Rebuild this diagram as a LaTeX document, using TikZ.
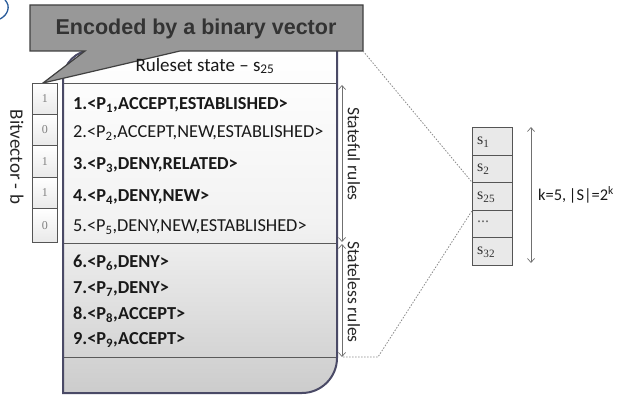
\documentclass[tikz,border=0pt]{standalone}
\usepackage{fontspec}
\setmainfont{Carlito}
\newfontfamily\arialfont{Liberation Sans}
\newfontfamily\cellfont{Liberation Serif}
\usetikzlibrary{arrows.meta}
\definecolor{boxborder}{HTML}{4A4A66}
\definecolor{divider}{HTML}{5A5A5A}
\definecolor{callfill}{HTML}{989898}
\definecolor{callborder}{HTML}{404040}
\definecolor{calltext}{HTML}{333333}
\definecolor{cellfill}{HTML}{E9E9E9}
\definecolor{cellborder}{HTML}{555555}
\definecolor{digit}{HTML}{808080}
\definecolor{arrowgray}{HTML}{707070}
\definecolor{dotgray}{HTML}{8A8A8A}
\definecolor{slideblue}{HTML}{2A5C9A}
\tikzset{
  rule/.style={anchor=west, inner sep=0pt, font=\fontsize{18.3}{20}\selectfont, text=black!90},
  boldrule/.style={rule, font=\bfseries\fontsize{18.3}{20}\selectfont},
  bitcell/.style={draw=cellborder, line width=0.8pt, top color=white, bottom color=cellfill,
    minimum width=25pt, minimum height=31pt, inner sep=0pt, anchor=north west,
    font=\cellfont\fontsize{12}{14}\selectfont, text=digit},
  stcell/.style={draw=cellborder, line width=0.9pt, fill=cellfill,
    minimum width=40pt, minimum height=27.6pt, inner sep=0pt, anchor=north west},
  stlabel/.style={anchor=west, inner sep=0pt, font=\cellfont\fontsize{16}{18}\selectfont, text=black!80},
  sidelabel/.style={rotate=-90, inner sep=0pt, font=\fontsize{17.5}{19}\selectfont, text=black!85},
  dim/.style={draw=arrowgray, line width=0.7pt, {Straight Barb[length=4pt,width=7pt]}-{Straight Barb[length=4pt,width=7pt]}},
  dotline/.style={draw=dotgray, line width=0.8pt, dash pattern=on 1.5pt off 1.5pt},
}
\begin{document}
\begin{tikzpicture}[x=1pt,y=-1pt]
\useasboundingbox (0,0) rectangle (633,396);
% slide artifact arc
\draw[slideblue, line width=1.3pt] (5,0) .. controls (11,6) and (8,15) .. (0,19);

% main box
\path[top color=white, bottom color=black!20, middle color=black!5]
  (63,393) -- (63,80) .. controls (63,63.4) and (76.4,50) .. (93,50)
  -- (337,50) -- (337,358) .. controls (337,377.3) and (321.3,393) .. (302,393) -- cycle;
\draw[divider, line width=1pt] (63,84) -- (337,84);
\draw[divider, line width=1pt] (63,243) -- (337,243);
\draw[divider, line width=1pt] (63,357) -- (337,357);
\draw[boxborder, line width=2pt]
  (63,393) -- (63,80) .. controls (63,63.4) and (76.4,50) .. (93,50)
  -- (337,50) -- (337,358) .. controls (337,377.3) and (321.3,393) .. (302,393) -- cycle;

% callout
\draw[callborder, fill=callfill, line width=1.2pt]
  (30,5) -- (363,5) -- (363,51) -- (180,51) -- (43,83) -- (85,51) -- (30,51) -- cycle;
\node[font=\arialfont\bfseries\fontsize{21.5}{24}\selectfont, text=calltext, inner sep=0pt] (callout) at (196,29) {Encoded by a binary vector};
\coordinate (calloutcorner) at (363,51);

% header
\node[font=\fontsize{19}{21}\selectfont, inner sep=0pt, text=black!90] (header) at (205,66) {Ruleset state -- s\textsubscript{25}};

% rules
\node[boldrule] (r1) at (73,105) {1.<P\textsubscript{1},ACCEPT,ESTABLISHED>};
\node[rule] (r2) at (73,133) {2.<P\textsubscript{2},ACCEPT,NEW,ESTABLISHED>};
\node[boldrule] (r3) at (73,165) {3.<P\textsubscript{3},DENY,RELATED>};
\node[boldrule] (r4) at (73,197) {4.<P\textsubscript{4},DENY,NEW>};
\node[rule] (r5) at (73,227) {5.<P\textsubscript{5},DENY,NEW,ESTABLISHED>};
\node[boldrule] (r6) at (73,263) {6.<P\textsubscript{6},DENY>};
\node[boldrule] (r7) at (73,289) {7.<P\textsubscript{7},DENY>};
\node[boldrule] (r8) at (73,315) {8.<P\textsubscript{8},ACCEPT>};
\node[boldrule] (r9) at (73,340) {9.<P\textsubscript{9},ACCEPT>};

% bitvector
\node[bitcell, minimum height=31pt] (b1) at (32,83) {1};
\node[bitcell, minimum height=31pt] (b2) at (32,114) {0};
\node[bitcell, minimum height=32pt] (b3) at (32,145) {1};
\node[bitcell, minimum height=31pt] (b4) at (32,177) {1};
\node[bitcell, minimum height=34pt] (b5) at (32,208) {0};
\node[sidelabel, font=\fontsize{19}{21}\selectfont] (bitlabel) at (17,157) {Bitvector - b};

% side labels and arrows
\coordinate (sfTop) at (342,85);
\coordinate (sfBot) at (342,242);
\coordinate (slTop) at (342,244);
\coordinate (slBot) at (342,357);
\draw[dim] (sfTop) -- (sfBot);
\draw[dim] (slTop) -- (slBot);
\node[sidelabel] (stateful) at (354,154) {Stateful rules};
\node[sidelabel] (stateless) at (354,292) {Stateless rules};

% state column
\node[stcell] (s1) at (472,127) {};
\node[stcell] (s2) at (472,154.6) {};
\node[stcell] (s25) at (472,182.2) {};
\node[stcell] (sdots) at (472,209.8) {};
\node[stcell] (s32) at (472,237.4) {};
\node[stlabel] (l1) at (477,142) {s\textsubscript{1}};
\node[stlabel] (l2) at (477,169) {s\textsubscript{2}};
\node[stlabel] (l25) at (477,197) {s\textsubscript{25}};
\node[stlabel, text=black!60] (ldots) at (477,222) {...};
\node[stlabel] (l32) at (477,252) {s\textsubscript{32}};
\coordinate (kTop) at (531,127);
\coordinate (kBot) at (531,263);
\draw[dim] (kTop) -- (kBot);
\node[anchor=west, inner sep=0pt, font=\fontsize{16.4}{18}\selectfont, text=black!90] (klabel) at (538,195) {k=5,\,|S|=2\textsuperscript{k}};

% dotted connectors
\coordinate (lowA) at (343,357);
\coordinate (lowB) at (378,357);
\draw[dotline] (calloutcorner) -- (s25.north west);
\draw[dotline] (lowA) -- (lowB) -- (s25.south west);
\end{tikzpicture}
\end{document}
